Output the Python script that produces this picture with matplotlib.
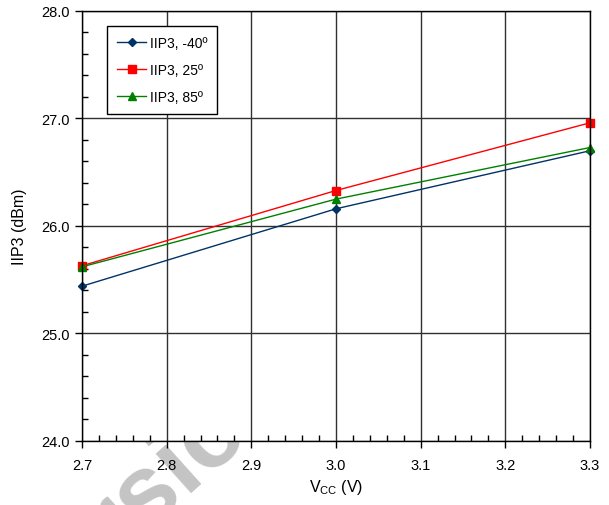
import matplotlib
matplotlib.use("Agg")
import matplotlib.pyplot as plt
from matplotlib.ticker import MultipleLocator

plt.rcParams['font.family'] = ['Liberation Sans', 'DejaVu Sans']
plt.rcParams['mathtext.default'] = 'regular'

vcc = [2.7, 3.0, 3.3]
iip3_m40 = [25.44, 26.16, 26.70]
iip3_25 = [25.63, 26.33, 26.96]
iip3_85 = [25.62, 26.25, 26.73]
labels = ["IIP3, -40º", "IIP3, 25º", "IIP3, 85º"]

fig = plt.figure(figsize=(6.09, 5.06), dpi=100)
# faint watermark behind the axes
fig.text(0.24, 0.015, "Version", fontsize=72, fontweight='bold', color='#c4c4c4',
         rotation=42, ha='center', va='center', zorder=0)
ax = fig.add_axes([0.1346, 0.1265, 0.8342, 0.8498])
ax.set_zorder(1)

ax.plot(vcc, iip3_m40, color='#003366', lw=1, marker='D', ms=4.5, label=labels[0], clip_on=False)
ax.plot(vcc, iip3_25, color='#ff0000', lw=1, marker='s', ms=6, label=labels[1], clip_on=False)
ax.plot(vcc, iip3_85, color='#008000', lw=1, marker='^', ms=6, label=labels[2], clip_on=False)

ax.set_xlim(2.7, 3.3)
ax.set_ylim(24.0, 28.0)
ax.xaxis.set_major_locator(MultipleLocator(0.1))
ax.xaxis.set_minor_locator(MultipleLocator(0.02))
ax.yaxis.set_major_locator(MultipleLocator(1.0))
ax.yaxis.set_minor_locator(MultipleLocator(0.2))
ax.xaxis.set_major_formatter(plt.FormatStrFormatter('%.1f'))
ax.yaxis.set_major_formatter(plt.FormatStrFormatter('%.1f'))
ax.tick_params(which='major', direction='out', length=5, width=1, labelsize=10.5, color='black')
ax.tick_params(which='minor', direction='in', length=4, width=1, color='black')
ax.tick_params(axis='x', which='major', pad=7)
ax.tick_params(axis='y', which='major', pad=4)
ax.grid(True, which='major', color='#303030', lw=1)
ax.set_axisbelow(True)
for s in ax.spines.values():
    s.set_color('black')
    s.set_linewidth(1)

ax.set_xlabel("V$_{CC}$ (V)", fontsize=11.5, labelpad=4)
ax.set_ylabel("IIP3 (dBm)", fontsize=11.5, labelpad=10)

leg = ax.legend(loc='upper left', bbox_to_anchor=(0.05, 0.965), fontsize=10,
                frameon=True, fancybox=False, edgecolor='black', framealpha=1,
                borderpad=0.7, labelspacing=0.95, handlelength=2.1, handletextpad=0.25,
                borderaxespad=0)
leg.get_frame().set_linewidth(1)

fig.savefig("out.png", dpi=100)
